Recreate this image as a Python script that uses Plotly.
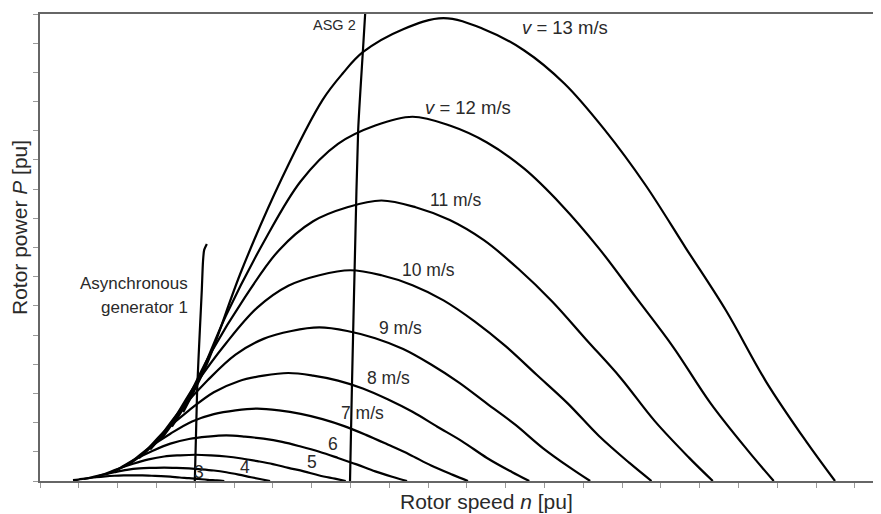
import plotly.graph_objects as go

# Rotor power curves P(n) for wind speeds v (x: rotor speed in tick units, y: power in tick units)
speeds = [3, 4, 5, 6, 7, 8, 9, 10, 11, 12, 13]

n3 = [0.85, 0.99, 1.20, 1.44, 1.68, 1.92, 2.16, 2.40, 2.64, 2.88, 3.12, 3.36, 3.60, 3.84, 4.08, 4.32, 4.56, 4.75]
p3 = [0.03, 0.05, 0.09, 0.13, 0.16, 0.18, 0.19, 0.195, 0.19, 0.18, 0.17, 0.15, 0.12, 0.10, 0.07, 0.04, 0.02, 0.0]

n4 = [1.13, 1.32, 1.60, 1.92, 2.24, 2.56, 2.88, 3.20, 3.52, 3.84, 4.16, 4.48, 4.80, 5.12, 5.44, 5.70, 5.93]
p4 = [0.07, 0.12, 0.21, 0.30, 0.38, 0.43, 0.45, 0.46, 0.45, 0.43, 0.40, 0.36, 0.30, 0.22, 0.13, 0.06, 0.0]

n5 = [1.42, 1.65, 2.00, 2.40, 2.80, 3.20, 3.60, 4.00, 4.40, 4.80, 5.20, 5.60, 6.00, 6.40, 6.80, 7.20, 7.60, 7.88]
p5 = [0.13, 0.23, 0.41, 0.59, 0.74, 0.84, 0.88, 0.90, 0.88, 0.84, 0.77, 0.68, 0.58, 0.45, 0.33, 0.19, 0.08, 0.0]

n6 = [1.70, 1.98, 2.40, 2.88, 3.36, 3.84, 4.32, 4.80, 5.28, 5.76, 6.24, 6.72, 7.20, 7.68, 8.16, 8.64, 9.12, 9.46]
p6 = [0.23, 0.39, 0.71, 1.02, 1.28, 1.44, 1.52, 1.56, 1.52, 1.45, 1.34, 1.18, 1.00, 0.79, 0.57, 0.33, 0.13, 0.0]

n7 = [1.98, 2.31, 2.80, 3.36, 3.92, 4.48, 5.04, 5.60, 6.16, 6.72, 7.28, 7.84, 8.40, 8.96, 9.52, 10.08, 10.64, 11.03]
p7 = [0.37, 0.62, 1.13, 1.62, 2.04, 2.29, 2.42, 2.48, 2.42, 2.30, 2.12, 1.88, 1.58, 1.25, 0.91, 0.53, 0.21, 0.0]

n8 = [2.27, 2.64, 3.20, 3.84, 4.48, 5.12, 5.76, 6.40, 7.04, 7.68, 8.32, 8.96, 9.60, 10.24, 10.88, 11.52, 12.16, 12.61]
p8 = [0.55, 0.92, 1.69, 2.42, 3.04, 3.42, 3.61, 3.70, 3.61, 3.44, 3.17, 2.80, 2.37, 1.86, 1.36, 0.79, 0.31, 0.0]

n9 = [2.55, 2.97, 3.60, 4.32, 5.04, 5.76, 6.48, 7.20, 7.92, 8.64, 9.36, 10.08, 10.80, 11.52, 12.24, 12.96, 13.68, 14.18]
p9 = [0.78, 1.32, 2.40, 3.45, 4.33, 4.87, 5.14, 5.26, 5.14, 4.89, 4.52, 3.99, 3.37, 2.65, 1.94, 1.13, 0.44, 0.0]

n10 = [2.84, 3.30, 4.00, 4.80, 5.60, 6.40, 7.20, 8.00, 8.80, 9.60, 10.40, 11.20, 12.00, 12.80, 13.60, 14.40, 15.20, 15.76]
p10 = [1.08, 1.81, 3.29, 4.73, 5.94, 6.69, 7.05, 7.22, 7.05, 6.71, 6.19, 5.47, 4.62, 3.64, 2.66, 1.55, 0.61, 0.0]

n11 = [3.12, 3.63, 4.40, 5.28, 6.16, 7.04, 7.92, 8.80, 9.68, 10.56, 11.44, 12.32, 13.20, 14.08, 14.96, 15.84, 16.72, 17.34]
p11 = [1.43, 2.40, 4.38, 6.29, 7.91, 8.90, 9.38, 9.61, 9.38, 8.94, 8.25, 7.28, 6.15, 4.84, 3.54, 2.06, 0.81, 0.0]

n12 = [3.40, 3.96, 4.80, 5.76, 6.72, 7.68, 8.64, 9.60, 10.56, 11.52, 12.48, 13.44, 14.40, 15.36, 16.32, 17.28, 18.24, 18.91]
p12 = [1.86, 3.12, 5.69, 8.17, 10.27, 11.55, 12.18, 12.48, 12.18, 11.60, 10.70, 9.46, 7.98, 6.29, 4.59, 2.67, 1.05, 0.0]

n13 = [3.69, 4.29, 5.20, 6.24, 7.28, 7.80, 8.32, 9.36, 10.40, 11.44, 12.48, 13.52, 14.56, 15.60, 16.64, 17.68, 18.72, 19.76, 20.49]
p13 = [2.36, 3.97, 7.23, 10.39, 13.05, 13.96, 14.69, 15.48, 15.86, 15.48, 14.75, 13.61, 12.02, 10.15, 7.99, 5.84, 3.39, 1.33, 0.0]

# Generator characteristics
ag1_n = [3.99, 4.05, 4.12, 4.17, 4.20, 4.23, 4.30]
ag1_p = [0.0, 3.12, 5.17, 6.54, 7.50, 7.91, 8.12]
asg2_n = [7.99, 8.04, 8.12, 8.20, 8.32, 8.38]
asg2_p = [0.0, 3.29, 7.91, 12.02, 14.69, 16.0]

curves_n = [n3, n4, n5, n6, n7, n8, n9, n10, n11, n12, n13]
curves_p = [p3, p4, p5, p6, p7, p8, p9, p10, p11, p12, p13]

# Labels
label_text = ["3", "4", "5", "6", "7 m/s", "8 m/s", "9 m/s", "10 m/s", "11 m/s",
              "<i>v</i> = 12 m/s", "<i>v</i> = 13 m/s"]
label_n = [4.10, 5.28, 7.01, 7.55, 8.30, 8.97, 9.28, 10.00, 10.70, 11.03, 13.53]
label_p = [0.31, 0.48, 0.65, 1.27, 2.33, 3.53, 5.24, 7.23, 9.62, 12.81, 15.55]
label_size = [17.5, 17.5, 17.5, 17.5, 17.5, 17.5, 17.5, 17.5, 17.5, 18.5, 18.5]

FONT = "Liberation Sans, Arial, Helvetica, sans-serif"
TXT = "#2a2a2a"

# The page body has an 8px default margin; size the figure so the plot lands
# at the reference pixel positions within the 881x514 window.
OFF = 8
W, H = 881 - OFF, 514 - OFF
L, R, T, B = 40 - OFF, 0, 14 - OFF, 514 - 481
pw, ph = W - L - R, H - T - B

fig = go.Figure()
for nn, pp in zip(curves_n, curves_p):
    fig.add_trace(go.Scatter(x=nn, y=pp, mode="lines",
                             line=dict(color="black", width=2.2, shape="spline", smoothing=1.0),
                             hoverinfo="skip", showlegend=False))
fig.add_trace(go.Scatter(x=ag1_n, y=ag1_p, mode="lines",
                         line=dict(color="black", width=2.2, shape="spline", smoothing=0.6),
                         showlegend=False))
fig.add_trace(go.Scatter(x=asg2_n, y=asg2_p, mode="lines",
                         line=dict(color="black", width=2.2, shape="spline", smoothing=0.6),
                         showlegend=False))

for t, xx, yy, sz in zip(label_text, label_n, label_p, label_size):
    fig.add_annotation(x=xx, y=yy, text=t, showarrow=False,
                       font=dict(family=FONT, size=sz, color=TXT))

fig.add_annotation(x=7.60, y=15.62, text="ASG 2", showarrow=False,
                   font=dict(family=FONT, size=14.5, color=TXT))
fig.add_annotation(x=3.87, y=6.78, text="Asynchronous", showarrow=False, xanchor="right",
                   font=dict(family=FONT, size=17, color=TXT))
fig.add_annotation(x=3.87, y=5.96, text="generator 1", showarrow=False, xanchor="right",
                   font=dict(family=FONT, size=17, color=TXT))

# Axis titles (positioned in window pixels via paper coordinates)
def px_to_paper(px, py):
    return ((px - OFF) - L) / pw, (H - B - (py - OFF)) / ph

ax_x, ax_y = px_to_paper(486, 502)
fig.add_annotation(x=ax_x, y=ax_y, xref="paper", yref="paper", xanchor="center", yanchor="middle",
                   text="Rotor speed <i>n</i> [pu]", showarrow=False,
                   font=dict(family=FONT, size=21, color=TXT))
ay_x, ay_y = px_to_paper(19, 228)
fig.add_annotation(x=ay_x, y=ay_y, xref="paper", yref="paper", xanchor="center", yanchor="middle",
                   text="Rotor power <i>P</i> [pu]", showarrow=False, textangle=-90,
                   font=dict(family=FONT, size=21, color=TXT))

fig.update_layout(
    width=W, height=H,
    margin=dict(l=L, r=R, t=T, b=B, autoexpand=False),
    plot_bgcolor="white", paper_bgcolor="white",
    showlegend=False,
)
fig.update_xaxes(range=[0, 21.675], showgrid=False, zeroline=False, showticklabels=False,
                 ticks="outside", ticklen=5, tickcolor="#999", tickwidth=1, dtick=1, tick0=0,
                 showline=True, linecolor="#666", linewidth=2, mirror=True)
fig.update_yaxes(range=[0, 16], showgrid=False, zeroline=False, showticklabels=False,
                 ticks="outside", ticklen=5, tickcolor="#999", tickwidth=1, dtick=1, tick0=0,
                 showline=True, linecolor="#666", linewidth=2)

fig.write_html("out.html")
